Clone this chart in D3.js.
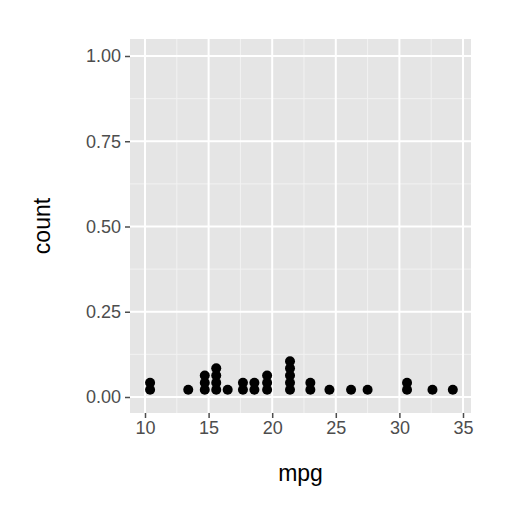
<!DOCTYPE html>
<html><head><meta charset="utf-8">
<script src="https://cdn.jsdelivr.net/npm/d3@7"></script>
<style>body{margin:0;background:#fff}</style>
</head><body><div id="chart"></div>
<script>
// stacked dot centres (mpg) and number of dots per stack
const stackMpg = [10.4, 13.4, 14.7, 15.6, 16.5, 17.7, 18.6, 19.6, 21.4, 23.0, 24.5, 26.2, 27.5, 30.6, 32.6, 34.2];
const stackCount = [2, 1, 3, 4, 1, 2, 2, 3, 5, 2, 1, 1, 1, 2, 1, 1];
const xTicks = [10, 15, 20, 25, 30, 35];
const yTicks = [0, 0.25, 0.5, 0.75, 1.0];
const dotStep = 0.021;

const W = 512, H = 512;
const panel = {left: 130, right: 471, top: 39, bottom: 413};
const font = 'Liberation Sans, Arial, sans-serif';
const svg = d3.select('#chart').append('svg').attr('width', W).attr('height', H);

const x = d3.scaleLinear().domain([10, 35]).range([145, 463]);
const y = d3.scaleLinear().domain([0, 1]).range([397, 56]);

svg.append('rect').attr('x', panel.left).attr('y', panel.top)
  .attr('width', panel.right - panel.left).attr('height', panel.bottom - panel.top)
  .attr('fill', '#e5e5e5');

const g = svg.append('g');
const xMinor = xTicks.slice(0, -1).map(d => d + 2.5);
const yMinor = yTicks.slice(0, -1).map(d => d + 0.125);
g.selectAll('.xm').data(xMinor).join('line')
  .attr('x1', d => x(d)).attr('x2', d => x(d)).attr('y1', panel.top).attr('y2', panel.bottom)
  .attr('stroke', '#f2f2f2').attr('stroke-width', 1);
g.selectAll('.ym').data(yMinor).join('line')
  .attr('y1', d => y(d)).attr('y2', d => y(d)).attr('x1', panel.left).attr('x2', panel.right)
  .attr('stroke', '#f2f2f2').attr('stroke-width', 1);
g.selectAll('.xM').data(xTicks).join('line')
  .attr('x1', d => x(d)).attr('x2', d => x(d)).attr('y1', panel.top).attr('y2', panel.bottom)
  .attr('stroke', '#fff').attr('stroke-width', 2);
g.selectAll('.yM').data(yTicks).join('line')
  .attr('y1', d => y(d)).attr('y2', d => y(d)).attr('x1', panel.left).attr('x2', panel.right)
  .attr('stroke', '#fff').attr('stroke-width', 2);

// dots
const dots = [];
stackMpg.forEach((m, i) => {
  for (let k = 0; k < stackCount[i]; k++) dots.push({m, v: (k + 1) * dotStep});
});
svg.append('g').selectAll('circle').data(dots).join('circle')
  .attr('cx', d => x(d.m)).attr('cy', d => y(d.v)).attr('r', 5).attr('fill', '#000');

// axes
const xa = svg.append('g').attr('transform', `translate(0,${panel.bottom})`)
  .call(d3.axisBottom(x).tickValues(xTicks).tickSize(5).tickPadding(3));
const ya = svg.append('g').attr('transform', `translate(${panel.left},0)`)
  .call(d3.axisLeft(y).tickValues(yTicks).tickFormat(d3.format('.2f')).tickSize(5).tickPadding(4));
[xa, ya].forEach(a => {
  a.select('.domain').remove();
  a.attr('font-size', null).attr('font-family', null);
  a.selectAll('line').attr('stroke', '#4d4d4d').attr('stroke-width', 1.5);
  a.selectAll('text').attr('fill', '#4d4d4d')
    .style('font-size', '18px').style('font-family', font);
});

svg.append('text').attr('x', (panel.left + panel.right) / 2).attr('y', 481)
  .attr('text-anchor', 'middle').style('font-size', '23px').style('font-family', font).text('mpg');
svg.append('text').attr('transform', `translate(50,${(panel.top + panel.bottom) / 2}) rotate(-90)`)
  .attr('text-anchor', 'middle').style('font-size', '23px').style('font-family', font).text('count');
</script></body></html>
